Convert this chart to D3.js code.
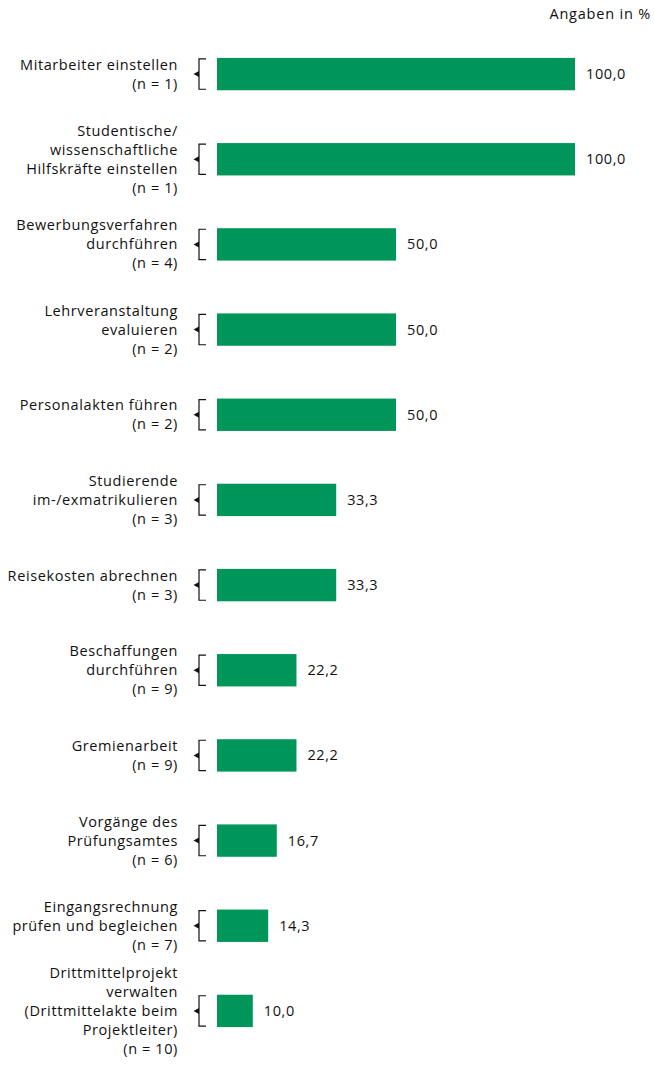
<!DOCTYPE html>
<html>
<head>
<meta charset="utf-8">
<script src="https://cdn.jsdelivr.net/npm/d3@7"></script>
<style>
  html, body { margin: 0; padding: 0; background: #fff; }
  svg { display: block; font-family: "Open Sans", "Noto Sans", sans-serif; }
</style>
</head>
<body>
<svg id="chart" width="654" height="1067"></svg>
<script>
// Task categories (label lines) with respondent counts
const categories = [
  ["Mitarbeiter einstellen"],
  ["Studentische/", "wissenschaftliche", "Hilfskräfte einstellen"],
  ["Bewerbungsverfahren", "durchführen"],
  ["Lehrveranstaltung", "evaluieren"],
  ["Personalakten führen"],
  ["Studierende", "im-/exmatrikulieren"],
  ["Reisekosten abrechnen"],
  ["Beschaffungen", "durchführen"],
  ["Gremienarbeit"],
  ["Vorgänge des", "Prüfungsamtes"],
  ["Eingangsrechnung", "prüfen und begleichen"],
  ["Drittmittelprojekt", "verwalten", "(Drittmittelakte beim", "Projektleiter)"]
];
const counts = [1, 1, 4, 2, 2, 3, 3, 9, 9, 6, 7, 10];
const values = [100.0, 100.0, 50.0, 50.0, 50.0, 33.3, 33.3, 22.2, 22.2, 16.7, 14.3, 10.0];

const fmt = v => v.toFixed(1).replace(".", ",");
const green = "#009659";
const ink = "#111111";
const fs = 14.5, ls = 0.6;

const svg = d3.select("#chart");

const x = d3.scaleLinear().domain([0, 100]).range([217, 575]);
const y = d3.scaleBand()
  .domain(d3.range(values.length))
  .range([31.5, 1053.5])
  .paddingInner(0.62)
  .paddingOuter(0.31);

svg.append("text")
  .attr("x", 651).attr("y", 19)
  .attr("text-anchor", "end")
  .attr("font-size", fs)
  .attr("letter-spacing", 0.8)
  .attr("fill", ink)
  .text("Angaben in %");

const rows = svg.selectAll("g.row")
  .data(values.map((v, i) => ({ v, i, lines: categories[i].concat([`(n = ${counts[i]})`]) })))
  .join("g").attr("class", "row");

rows.append("rect")
  .attr("x", x(0))
  .attr("y", d => y(d.i))
  .attr("width", d => x(d.v) - x(0))
  .attr("height", y.bandwidth())
  .attr("fill", green);

rows.append("text")
  .attr("x", d => x(d.v) + 11)
  .attr("y", d => y(d.i) + y.bandwidth() / 2)
  .attr("dy", "0.35em")
  .attr("font-size", fs)
  .attr("letter-spacing", ls)
  .attr("fill", ink)
  .text(d => fmt(d.v));

// bracket connecting each label to its bar
rows.append("path")
  .attr("stroke", ink).attr("fill", "none").attr("stroke-width", 1.2)
  .attr("d", d => {
    const t = y(d.i) + 1, b = y(d.i) + y.bandwidth() - 1;
    return `M206,${t}H199V${b}H206`;
  });
rows.append("path")
  .attr("fill", ink)
  .attr("d", d => {
    const c = y(d.i) + y.bandwidth() / 2;
    return `M193.5,${c}L199,${c - 3}V${c + 3}Z`;
  });

const lineH = 19;
rows.append("text")
  .attr("text-anchor", "end")
  .attr("font-size", fs)
  .attr("letter-spacing", ls)
  .attr("fill", ink)
  .each(function(d) {
    const n = d.lines.length;
    const c = y(d.i) + y.bandwidth() / 2;
    const top = c - (n - 1) * lineH / 2;
    d3.select(this).selectAll("tspan")
      .data(d.lines)
      .join("tspan")
      .attr("x", 178)
      .attr("y", (l, k) => top + k * lineH)
      .attr("dy", "0.35em")
      .text(l => l);
  });
</script>
</body>
</html>
